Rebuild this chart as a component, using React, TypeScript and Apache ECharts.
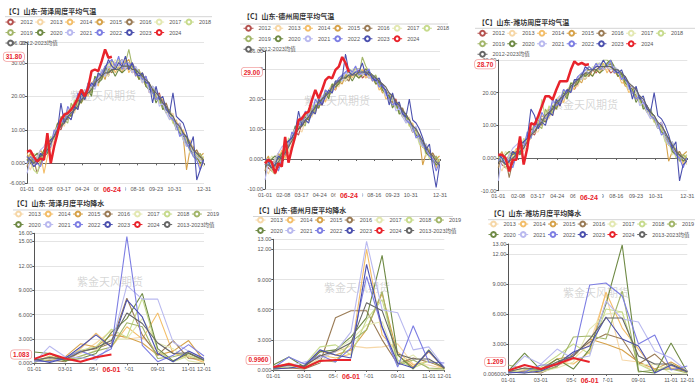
import React, { useEffect, useRef } from 'react';
import * as echarts from 'echarts';

// ---------- categories ----------
const DAYS: string[] = (() => {
  const out: string[] = [];
  const start = Date.UTC(2024, 0, 1);
  for (let i = 0; i < 366; i++) {
    const d = new Date(start + i * 86400000);
    out.push(String(d.getUTCMonth() + 1).padStart(2, '0') + '-' + String(d.getUTCDate()).padStart(2, '0'));
  }
  return out;
})();
const MONTHS = ['01-01', '02-01', '03-01', '04-01', '05-01', '06-01', '07-01', '08-01', '09-01', '10-01', '11-01', '12-01'];

const YEARS_T = ['2012', '2013', '2014', '2015', '2016', '2017', '2018', '2019', '2020', '2021', '2022', '2023'];
const YEARS_P = ['2013', '2014', '2015', '2016', '2017', '2018', '2019', '2020', '2021', '2022', '2023'];
const AVG_T = '2012-2023均值';
const AVG_P = '2013-2023均值';
const CUR = '2024';

const COLORS: Record<string, string> = {
  '2012': '#b5524f', '2013': '#f6d7a7', '2014': '#f3be6a', '2015': '#d6a24a', '2016': '#9a7b55',
  '2017': '#e3e8b1', '2018': '#c7db8d', '2019': '#a3b66a', '2020': '#6f8a45', '2021': '#b9b9ef',
  '2022': '#7d7ee3', '2023': '#4b50ae', '2024': '#e8232b', [AVG_T]: '#666666', [AVG_P]: '#666666',
};

// ---------- weekly temperature (°C), one value every 7 days from 01-01 ----------
const heze2012T = [2,0,-1,1,0,2,3,5,9,11, 10,13,15,14,17,18,20,19,22,23, 25,24,27,28,26,29,30,29,30,28, 29,27,28,26,27,24,23,22,20,21, 17,16,16,13,11,12,8,7,5,3, 2,0,1];
const heze2013T = [0,-2,1,2,1,3,5,4,7,11, 12,11,15,16,15,18,18,21,20,23, 23,26,25,28,29,27,30,31,29,30, 28,29,27,28,25,26,23,21,22,19, 18,16,14,15,11,10,10,7,6,5, 2,3,0];
const heze2014T = [3,1,2,0,3,-3,2,6,9,12, 13,14,13,17,18,16,21,22,20,24, 25,23,28,26,28,30,27,29,28,31, 27,29,26,27,24,25,21,22,19,20, 19,15,16,12,13,9,10,6,7,3, 4,-1,2];
const heze2015T = [1,3,0,2,4,2,6,7,8,9, 13,14,16,14,17,19,18,20,23,22, 24,26,27,25,29,28,30,29,27,30, 31,28,27,25,26,23,24,21,20,18, 19,17,14,13,12,10,8,-2,4,5, 1,2,3];
const heze2016T = [-1,2,1,-3,0,4,5,7,8,10, 11,15,13,16,18,17,19,21,22,21, 25,24,26,27,28,27,29,30,31,29, 28,30,28,26,25,26,22,23,20,19, 17,18,15,14,10,11,9,6,5,3, 4,2,0];
const heze2017T = [2,1,3,2,1,3,6,5,10,9, 12,13,14,17,16,19,20,22,21,24, 23,25,28,27,26,29,31,29,28,30, 29,27,29,26,24,25,24,20,21,19, 16,17,13,14,12,9,8,7,3,4, 2,1,-1];
const heze2018T = [0,1,-2,-3,1,2,4,8,7,11, 13,12,16,15,19,17,21,20,23,22, 26,25,27,26,30,29,28,31,30,29, 30,28,28,27,26,24,22,23,21,18, 18,16,15,12,11,10,7,6,6,2, 3,1,2];
const heze2019T = [1,2,0,1,3,1,5,6,9,10, 14,13,12,18,16,17,20,19,24,21, 24,27,25,28,27,31,29,28,29,30, 34,29,27,28,25,24,23,21,20,19, 17,15,16,13,10,11,9,5,6,4, 1,3,1];
const heze2020T = [1,0,2,3,2,4,3,7,8,12, 11,13,15,14,16,19,18,21,22,20, 26,24,25,29,27,28,26,28,27,28, 30,29,28,25,27,23,22,22,18,20, 16,17,15,14,11,9,8,8,4,3, 2,0,1];
const heze2021T = [-3,1,-1,2,4,5,7,6,9,11, 12,15,14,16,17,20,19,22,21,24, 22,25,28,26,29,28,30,29,31,28, 30,27,29,27,24,26,21,23,22,17, 18,15,13,14,10,12,7,5,6,3, 2,1,0];
const heze2022T = [0,2,1,0,-1,2,4,5,10,9, 13,12,17,15,16,21,19,20,24,23, 25,26,27,29,30,31,29,32,28,30, 29,30,26,27,25,26,23,21,19,20, 18,17,14,13,12,8,9,6,4,2, 1,-2,1];
const heze2023T = [2,1,-1,0,3,2,6,7,8,10, 18,12,14,13,17,16,21,19,22,24, 23,27,26,28,31,29,28,30,29,32, 28,30,27,26,27,24,24,18,23,19, 20,16,15,21,14,13,12,9,5,8, -5,-2,1];
const hezeAvgT = [1,1,0,1,2,3,4,6,8,10, 11,12,14,15,16,17,19,20,21,22, 24,25,26,27,27,28,28,28,29,29, 29,28,28,27,26,25,24,22,21,20, 18,17,15,14,12,11,9,8,6,4, 3,2,1];
const heze2024T = [3.5,3.8,2.0,0.5,1.5,1.0,9.0,0.0,5.0,9.0, 13.0,14.5,15.0,16.0,17.5,19.5,22.0,20.0,22.5,27.5, 28.0,27.5,30.5,34.0,31.5,31.8];

const dezhou2012T = [-1,-3,-4,-2,-3,0,1,4,7,9, 8,12,14,13,16,17,19,18,21,22, 24,23,26,27,26,28,29,28,30,27, 28,27,28,26,26,23,23,21,19,20, 16,15,15,12,9,10,6,5,3,1, 0,-2,-1];
const dezhou2013T = [-3,-5,-2,-1,-2,0,3,2,5,9, 10,9,13,14,14,17,17,20,19,22, 22,25,24,27,28,26,29,30,28,29, 27,28,26,27,24,25,22,20,21,18, 17,15,13,14,10,9,8,5,4,3, 0,1,-2];
const dezhou2014T = [0,-2,-1,-3,0,3,0,4,7,10, 12,13,12,16,17,15,20,21,19,23, 25,23,27,26,28,29,27,29,28,30, 27,28,26,27,23,24,20,21,18,19, 18,14,15,11,12,8,8,4,5,1, 2,-3,0];
const dezhou2015T = [-1,1,-2,0,2,0,4,5,6,8, 12,13,15,13,16,18,17,20,22,21, 23,25,26,25,28,27,29,28,27,29, 30,28,27,25,25,22,23,20,19,17, 18,16,13,12,11,9,7,-2,2,3, -1,0,1];
const dezhou2016T = [-4,0,-1,-5,-2,2,3,5,7,9, 10,14,12,15,17,16,18,20,21,21, 24,24,26,27,27,26,29,30,30,29, 28,29,28,26,25,25,22,22,19,18, 16,17,14,13,9,10,7,4,3,1, 2,0,-2];
const dezhou2017T = [-1,-1,1,0,-1,1,4,3,9,8, 11,12,13,16,15,18,20,21,20,23, 23,25,27,27,26,28,30,29,28,29, 29,27,28,26,24,24,23,19,20,18, 15,16,12,13,11,8,7,5,1,2, 0,-1,-3];
const dezhou2018T = [-2,-1,-4,-5,-1,0,2,7,6,10, 12,11,15,14,18,16,20,19,22,22, 25,25,26,26,29,29,28,30,30,29, 29,28,28,27,26,23,21,22,20,17, 17,15,14,11,10,9,5,4,4,0, 1,-1,0];
const dezhou2019T = [-2,0,-2,-1,1,-1,3,5,8,9, 13,12,11,17,15,16,19,19,23,21, 23,26,25,27,27,30,29,28,28,34, 31,29,27,28,25,24,23,20,20,18, 16,14,15,12,9,10,8,4,5,2, -1,1,-1];
const dezhou2020T = [-1,-2,0,1,0,2,2,6,7,11, 10,12,14,13,15,18,17,20,22,20, 25,24,25,28,27,28,26,28,27,28, 30,29,28,25,26,23,22,21,17,19, 15,16,14,13,10,8,7,6,2,1, 0,-2,-1];
const dezhou2021T = [-7,-1,-3,0,2,4,5,5,8,10, 11,14,13,15,16,19,19,21,20,23, 22,25,27,26,29,28,29,29,30,28, 29,27,28,27,24,25,21,22,21,16, 17,14,12,13,9,11,6,4,5,1, 0,-1,-2];
const dezhou2022T = [-2,0,-1,-2,-4,0,2,4,9,8, 12,11,16,14,15,20,18,19,23,22, 24,25,27,28,29,30,29,31,28,29, 29,30,26,27,24,25,22,20,18,19, 17,16,13,12,11,7,8,5,3,1, 0,-4,-1];
const dezhou2023T = [0,-1,-3,-2,1,0,5,6,7,9, 16,11,13,12,16,15,20,18,21,23, 22,26,26,27,35,29,28,29,29,32, 28,29,27,26,27,24,23,18,22,18, 19,15,14,20,13,12,10,7,3,5, -3,-9.5,-2];
const dezhouAvgT = [-2,-2,-3,-2,-1,1,2,4,6,8, 10,11,13,14,16,17,19,20,21,22, 24,25,26,27,27,28,28,28,29,29, 29,28,28,27,26,25,24,22,21,19, 18,16,15,13,11,10,8,6,4,2, 1,-1,-2];
const dezhou2024T = [-1.5,-0.3,-1.0,-4.8,-1.5,-2.5,7.4,-1.2,3.5,7.5, 13.0,13.5,15.2,15.8,19.7,23.0,20.2,23.0,26.3,27.4, 26.9,29.7,30.8,34.0,32.0,29.0];

const weifang2012T = [0,-2,-3,-1,-2,1,2,3,6,8, 7,10,12,11,14,15,17,16,19,20, 22,21,23,25,24,26,27,26,28,27, 28,26,27,25,25,23,22,21,19,19, 16,15,14,12,10,11,7,6,3,2, 0,-1,0];
const weifang2013T = [-2,-4,-1,0,-1,1,3,2,4,7, 8,8,11,12,12,15,15,17,17,20, 20,22,22,25,26,25,27,28,26,28, 27,28,26,26,24,24,21,20,20,18, 17,15,13,13,10,9,8,5,3,2, -1,1,-2];
const weifang2014T = [1,-1,0,-2,1,3,1,4,6,8, 10,11,10,14,15,13,18,19,17,21, 22,21,25,24,26,27,25,27,27,29, 26,28,26,26,23,23,20,21,18,18, 17,14,14,11,11,8,8,4,4,1, 2,-2,1];
const weifang2015T = [0,2,-1,1,2,1,4,5,5,6, 10,11,13,12,14,16,15,18,20,19, 21,23,24,23,26,25,27,27,26,28, 29,28,27,25,25,22,22,20,19,17, 17,15,13,12,11,9,7,-1,2,3, 0,1,2];
const weifang2016T = [-3,1,0,-6,-1,2,3,4,6,7, 9,12,10,13,15,14,16,18,19,19, 22,22,24,25,26,25,27,28,29,28, 28,29,28,26,25,24,22,22,19,18, 16,16,13,12,9,10,7,4,3,1, 2,0,-1];
const weifang2017T = [0,0,2,1,0,2,4,3,8,6, 9,10,11,14,13,16,18,19,18,21, 21,23,25,25,24,26,28,27,27,28, 29,27,28,26,24,24,22,19,20,18, 15,15,12,13,11,8,7,5,1,2, 1,-1,-2];
const weifang2018T = [-1,0,-3,-4,0,1,2,6,5,8, 10,9,18,12,16,14,18,17,20,20, 23,23,24,24,27,27,27,29,29,28, 29,28,28,27,26,23,21,21,20,17, 16,15,14,11,10,9,5,4,4,0, 1,0,1];
const weifang2019T = [-1,1,-1,0,2,0,3,4,7,7, 11,10,9,15,13,14,17,17,21,19, 21,24,23,25,25,28,27,27,27,30, 30,29,27,27,25,24,22,20,19,18, 16,14,15,12,9,10,8,4,5,2, -1,1,0];
const weifang2020T = [0,-1,1,2,1,2,1,5,6,9, 8,10,12,11,13,16,15,18,20,18, 23,22,23,26,25,26,25,27,26,27, 29,30,28,25,26,23,22,21,17,19, 15,16,14,13,10,8,7,6,2,1, 1,-1,0];
const weifang2021T = [-7,0,-2,1,3,4,5,4,7,8, 9,12,11,13,14,17,17,19,18,21, 20,23,25,24,27,26,27,28,29,27, 28,27,28,27,24,25,21,22,21,16, 17,14,12,13,9,11,6,4,5,1, 0,0,-1];
const weifang2022T = [-1,1,0,-1,-3,1,2,3,8,6, 10,9,14,12,13,18,16,17,21,20, 22,23,25,26,27,28,27,29,27,28, 28,30,26,27,24,25,22,20,18,19, 17,16,13,12,11,7,8,5,3,1, 0,-3,0];
const weifang2023T = [1,0,-2,-1,2,1,4,5,6,15, 13,9,11,10,14,13,18,16,19,21, 20,24,24,25,28,27,27,28,28,30, 28,28,27,26,27,24,23,18,22,18, 19,15,14,20,13,12,10,7,3,5, -7,-2,-1];
const weifangAvgT = [-1,-1,-2,-1,0,1,2,3,5,7, 8,10,11,13,14,15,17,18,19,20, 22,23,24,25,26,26,27,27,28,28, 28,28,27,27,26,25,23,22,21,19, 18,16,14,13,11,10,8,6,4,2, 1,0,-1];
const weifang2024T = [1.0,1.0,0.0,-4.1,-0.5,-0.5,6.6,-2.0,3.1,10.7, 10.2,12.8,15.8,18.9,18.9,17.9,20.9,23.5,23.5,23.5, 27.0,29.6,28.6,29.1,28.5,28.7];

// ---------- monthly precipitation ----------
const heze2013P = [0.3,0.8,0.5,1.2,2.5,4.0,3.0,3.2,1.5,0.3,1.0,0.2];
const heze2014P = [0.2,0.9,0.4,1.8,3.7,2.0,4.5,3.0,6.2,1.2,0.8,0.1];
const heze2015P = [0.4,0.3,0.8,2.4,2.0,3.5,3.2,2.5,1.0,1.5,2.8,0.3];
const heze2016P = [0.2,0.4,0.2,1.5,1.8,2.5,8.0,3.5,1.0,2.8,0.6,0.5];
const heze2017P = [0.1,0.6,0.4,0.8,1.6,3.0,3.0,5.5,2.5,1.8,0.3,0.0];
const heze2018P = [0.6,0.2,0.7,1.6,2.0,4.2,3.2,8.0,1.5,0.2,0.9,0.4];
const heze2019P = [0.1,0.8,0.3,0.9,1.5,2.0,5.0,4.5,0.6,0.8,1.3,0.3];
const heze2020P = [1.4,1.2,0.3,0.6,1.2,3.8,5.5,8.6,1.8,0.3,1.2,0.4];
const heze2021P = [0.1,2.1,0.8,0.7,0.4,2.2,9.6,7.9,7.9,2.6,1.5,0.5];
const heze2022P = [0.3,0.2,0.7,1.5,0.8,1.8,15.6,2.2,0.2,1.0,2.3,0.9];
const heze2023P = [0.5,0.1,0.6,2.0,3.5,2.0,7.8,5.7,1.2,0.2,1.5,0.6];
const hezeAvgP = [0.4,0.7,0.5,1.4,1.9,2.8,6.2,4.9,2.5,1.2,1.3,0.4];
const heze2024P = [0.55,1.2,0.6,0.2,0.75,1.083];

const dezhou2013P = [0.1,0.5,0.2,1.2,1.8,2.4,2.2,2.3,2.6,0.6,0.5,0.1];
const dezhou2014P = [0.2,0.7,0.3,1.5,1.2,1.6,12.0,3.5,1.8,0.5,0.9,0.1];
const dezhou2015P = [0.3,0.3,0.4,1.9,1.5,2.0,4.0,7.6,1.5,0.3,1.8,0.2];
const dezhou2016P = [0.1,0.2,0.1,0.7,5.2,5.9,5.9,3.0,0.6,1.2,0.8,0.3];
const dezhou2017P = [0.0,0.4,0.3,0.8,2.0,3.0,4.5,4.8,0.8,1.5,0.1,0.0];
const dezhou2018P = [0.4,0.2,0.5,2.3,2.5,1.5,5.0,7.0,1.0,0.2,0.9,0.3];
const dezhou2019P = [0.1,0.5,0.2,1.0,0.8,2.8,4.0,7.8,0.5,1.0,0.2,0.1];
const dezhou2020P = [0.5,1.3,0.3,1.8,2.0,3.3,5.2,11.4,1.5,0.1,2.0,0.1];
const dezhou2021P = [0.3,0.4,0.8,1.2,1.8,3.8,12.8,6.0,5.7,2.0,2.3,0.3];
const dezhou2022P = [0.2,1.3,0.6,1.5,0.8,2.2,9.3,4.2,0.3,4.4,0.8,0.7];
const dezhou2023P = [0.1,0.2,0.4,2.0,1.5,1.2,10.5,4.3,0.7,0.2,1.9,0.2];
const dezhouAvgP = [0.2,0.5,0.4,1.4,1.9,2.7,6.7,5.9,1.6,1.1,1.1,0.2];
const dezhou2024P = [0.3,0.6,0.2,0.9,1.0,0.996];

const weifang2013P = [0.1,0.4,0.3,0.8,1.5,3.0,8.0,1.4,1.2,0.2,0.8,0.1];
const weifang2014P = [0.2,0.6,0.2,1.2,1.0,2.2,8.2,4.6,2.5,0.4,0.6,0.2];
const weifang2015P = [0.3,0.2,0.5,1.5,1.8,3.5,3.0,2.4,1.2,0.5,1.2,0.3];
const weifang2016P = [0.1,0.3,0.1,0.8,2.0,3.2,4.0,3.5,1.0,2.0,0.5,0.3];
const weifang2017P = [0.05,0.5,0.2,0.6,1.2,4.5,6.0,6.2,0.9,1.0,0.1,0.006];
const weifang2018P = [0.4,0.1,0.7,1.8,3.0,2.0,6.5,6.2,1.0,0.2,1.0,0.2];
const weifang2019P = [0.9,0.5,0.3,0.7,3.7,3.8,3.5,8.3,0.2,0.4,0.5,0.1];
const weifang2020P = [0.3,2.1,0.4,1.5,0.5,2.5,7.0,12.9,0.3,0.1,3.1,0.2];
const weifang2021P = [0.2,1.8,1.0,2.5,1.5,1.8,7.3,5.5,5.2,2.3,1.6,0.3];
const weifang2022P = [0.1,0.2,0.9,0.9,1.8,8.9,9.1,7.8,3.0,3.9,0.4,0.8];
const weifang2023P = [0.2,0.1,0.3,1.0,2.2,2.8,5.7,3.5,2.8,0.1,0.9,0.2];
const weifangAvgP = [0.25,0.6,0.45,1.2,1.8,3.5,5.6,5.6,1.8,1.0,1.0,0.25];
const weifang2024P = [0.35,0.9,0.5,1.0,1.6,1.209];

// ---------- panel layout ----------
const FONT = '"Liberation Sans", Arial, "Noto Sans CJK SC", sans-serif';
const CJK = '"Noto Sans CJK SC", sans-serif';
const RED = '#e8232b';

const tempPanels = [
  {
    title: '【C】山东-菏泽周度平均气温', years: [heze2012T, heze2013T, heze2014T, heze2015T, heze2016T, heze2017T, heze2018T, heze2019T, heze2020T, heze2021T, heze2022T, heze2023T],
    avg: hezeAvgT, cur: heze2024T, min: -6, max: 36,
    grid: { left: 27, top: 42.7, width: 177, height: 140.7 }, titleXY: [5, 11], rule: [5, 212, 16.7], legendXY: [5, 17.8], wm: [103, 95],
  },
  {
    title: '【C】山东-德州周度平均气温', years: [dezhou2012T, dezhou2013T, dezhou2014T, dezhou2015T, dezhou2016T, dezhou2017T, dezhou2018T, dezhou2019T, dezhou2020T, dezhou2021T, dezhou2022T, dezhou2023T],
    avg: dezhouAvgT, cur: dezhou2024T, min: -10, max: 36,
    grid: { left: 265, top: 51, width: 175, height: 138 }, titleXY: [243, 16], rule: [240, 448, 24], legendXY: [243, 24], wm: [337, 100],
  },
  {
    title: '【C】山东-潍坊周度平均气温', years: [weifang2012T, weifang2013T, weifang2014T, weifang2015T, weifang2016T, weifang2017T, weifang2018T, weifang2019T, weifang2020T, weifang2021T, weifang2022T, weifang2023T],
    avg: weifangAvgT, cur: weifang2024T, min: -10, max: 30,
    grid: { left: 498.3, top: 60, width: 189, height: 130.7 }, titleXY: [478, 21.7], rule: [475, 695, 28.3], legendXY: [477, 29], wm: [585, 104],
  },
];

const precipPanels = [
  {
    title: '【C】山东-菏泽月度平均降水', years: [heze2013P, heze2014P, heze2015P, heze2016P, heze2017P, heze2018P, heze2019P, heze2020P, heze2021P, heze2022P, heze2023P],
    avg: hezeAvgP, cur: heze2024P, min: 0, max: 16,
    grid: { left: 34.3, top: 233.3, width: 169.7, height: 130 }, titleXY: [13, 203], rule: [13, 212, 210], legendXY: [13, 209.8], wm: [110, 281],
  },
  {
    title: '【C】山东-德州月度平均降水', years: [dezhou2013P, dezhou2014P, dezhou2015P, dezhou2016P, dezhou2017P, dezhou2018P, dezhou2019P, dezhou2020P, dezhou2021P, dezhou2022P, dezhou2023P],
    avg: dezhouAvgP, cur: dezhou2024P, min: 0, max: 13,
    grid: { left: 273.3, top: 239.3, width: 171, height: 130.7 }, titleXY: [255, 210], rule: [253, 453, 216.5], legendXY: [255, 215.8], wm: [357, 287],
  },
  {
    title: '【C】山东-潍坊月度平均降水', years: [weifang2013P, weifang2014P, weifang2015P, weifang2016P, weifang2017P, weifang2018P, weifang2019P, weifang2020P, weifang2021P, weifang2022P, weifang2023P],
    avg: weifangAvgP, cur: weifang2024P, min: 0.006, max: 13,
    grid: { left: 508.3, top: 244, width: 179, height: 130 }, titleXY: [490, 213.3], rule: [488, 695, 219.7], legendXY: [488, 219.8], wm: [596, 292],
  },
];

const fmt4 = (v: any) => Number(v).toPrecision(4);
const dayShown = (i: number) => (i % 38 === 0 && i <= 304) || i === 365;
const monthShown = (i: number) => i % 2 === 0 || i === 11;

function buildOption() {
  const grid: any[] = [];
  const xAxis: any[] = [];
  const yAxis: any[] = [];
  const series: any[] = [];
  const legend: any[] = [];
  const graphic: any[] = [];

  const labelBase = { fontSize: 5.5, color: '#555', fontFamily: FONT };
  const pointerLabel = {
    show: true, color: RED, fontWeight: 'bold', fontSize: 7, fontFamily: FONT,
    backgroundColor: '#fff', padding: [1, 4.5], shadowBlur: 0, shadowColor: 'transparent',
  };
  const hiddenPointerLine = { color: 'rgba(0,0,0,0)', opacity: 0 };

  const makeYAxis = (gi: number, min: number, max: number, val: number) => ({
    type: 'value', gridIndex: gi, min, max,
    axisLine: { show: true, lineStyle: { color: '#555', width: 1 } },
    axisTick: { show: true, length: 2, lineStyle: { color: '#555' } },
    axisLabel: { ...labelBase, margin: 2, formatter: fmt4 },
    splitLine: { show: true, lineStyle: { color: '#e4e4e4', width: 1 } },
    axisPointer: {
      show: true, status: 'show', value: val, type: 'line', lineStyle: hiddenPointerLine,
      label: { ...pointerLabel, padding: [1, 2], fontSize: 6.5, borderColor: '#f2a0a0', borderWidth: 0.8, formatter: (q: any) => fmt4(q.value) },
    },
  });

  const addDecor = (p: any, legendNames: string[]) => {
    graphic.push({
      type: 'text', x: p.titleXY[0], y: p.titleXY[1], silent: true,
      style: { text: p.title, fontSize: 7, fontWeight: 'bold', fill: '#333', fontFamily: CJK, verticalAlign: 'middle' },
    });
    graphic.push({
      type: 'line', silent: true, shape: { x1: p.rule[0], y1: p.rule[2], x2: p.rule[1], y2: p.rule[2] },
      style: { stroke: '#d4d4d4', lineWidth: 1 },
    });
    graphic.push({
      type: 'text', x: p.wm[0], y: p.wm[1], z: 1, silent: true,
      style: { text: '紫金天风期货', fontSize: 11, fill: 'rgba(150,150,150,0.4)', fontFamily: CJK, align: 'center', verticalAlign: 'middle' },
    });
    legend.push({
      data: legendNames, left: p.legendXY[0], top: p.legendXY[1], width: 212, padding: 0,
      itemWidth: 10, itemHeight: 6, itemGap: 2,
      lineStyle: { width: 1 },
      textStyle: { fontSize: 5.5, color: '#555', fontFamily: FONT, lineHeight: 8.5 },
    });
  };

  const lineSeries = (name: string, data: any[], xi: number, yi: number, isCur: boolean, isAvg: boolean) => ({
    name, type: 'line', xAxisIndex: xi, yAxisIndex: yi, data,
    symbol: 'emptyCircle', symbolSize: 4, showSymbol: false, connectNulls: true,
    lineStyle: { width: isCur ? 2.5 : 1.1, color: COLORS[name] },
    itemStyle: { color: COLORS[name] },
    z: isCur ? 6 : isAvg ? 4 : 3,
    silent: true,
  });

  tempPanels.forEach((p) => {
    const gi = grid.length;
    grid.push({ ...p.grid, containLabel: false, outerBoundsMode: 'none' });
    const xi = xAxis.length;
    xAxis.push({
      type: 'category', gridIndex: gi, data: DAYS, boundaryGap: false, position: 'bottom',
      axisLine: { show: false, onZero: false }, axisTick: { show: false }, splitLine: { show: false },
      axisLabel: { ...labelBase, interval: dayShown, margin: 3 },
      axisPointer: { show: true, status: 'show', value: (p.cur.length - 1) * 7, type: 'line', snap: false, lineStyle: hiddenPointerLine, label: { ...pointerLabel, margin: 2 } },
    });
    xAxis.push({
      type: 'category', gridIndex: gi, data: DAYS, boundaryGap: false, position: 'bottom',
      axisLine: { show: true, onZero: true, lineStyle: { color: '#666', width: 1 } },
      axisTick: { show: true, interval: dayShown, length: 2, lineStyle: { color: '#666' } },
      axisLabel: { show: false }, splitLine: { show: false }, axisPointer: { show: false },
    });
    const yi = yAxis.length;
    yAxis.push(makeYAxis(gi, p.min, p.max, p.cur[p.cur.length - 1]));
    const toDaily = (arr: number[]) => arr.map((v, i) => [i * 7, v]);
    p.years.forEach((arr, k) => series.push(lineSeries(YEARS_T[k], toDaily(arr), xi, yi, false, false)));
    series.push(lineSeries(AVG_T, toDaily(p.avg), xi, yi, false, true));
    series.push(lineSeries(CUR, toDaily(p.cur), xi, yi, true, false));
    addDecor(p, [...YEARS_T, CUR, AVG_T]);
  });

  precipPanels.forEach((p) => {
    const gi = grid.length;
    grid.push({ ...p.grid, containLabel: false, outerBoundsMode: 'none' });
    const xi = xAxis.length;
    xAxis.push({
      type: 'category', gridIndex: gi, data: MONTHS, boundaryGap: false, position: 'bottom',
      axisLine: { show: true, onZero: false, lineStyle: { color: '#666', width: 1 } },
      axisTick: { show: true, interval: monthShown, length: 2, lineStyle: { color: '#666' } },
      splitLine: { show: false },
      axisLabel: { ...labelBase, interval: monthShown, margin: 3 },
      axisPointer: { show: true, status: 'show', value: p.cur.length - 1, type: 'line', snap: false, lineStyle: hiddenPointerLine, label: { ...pointerLabel, margin: 2 } },
    });
    const yi = yAxis.length;
    yAxis.push(makeYAxis(gi, p.min, p.max, p.cur[p.cur.length - 1]));
    p.years.forEach((arr, k) => series.push(lineSeries(YEARS_P[k], arr, xi, yi, false, false)));
    series.push({ ...lineSeries(AVG_P, p.avg, xi, yi, false, true) });
    series.push({ ...lineSeries(CUR, p.cur, xi, yi, true, false), lineStyle: { width: 2, color: COLORS[CUR] } });
    addDecor(p, [...YEARS_P, CUR, AVG_P]);
  });

  return {
    animation: false,
    backgroundColor: '#ffffff',
    textStyle: { fontFamily: FONT },
    grid, xAxis, yAxis, series, legend, graphic,
  };
}

export default function App() {
  const ref = useRef<HTMLDivElement>(null);
  useEffect(() => {
    if (!ref.current) return;
    const chart = echarts.init(ref.current, undefined, { renderer: 'svg' });
    chart.setOption(buildOption() as any);
    return () => chart.dispose();
  }, []);
  return (
    <div
      ref={ref}
      style={{ position: 'fixed', left: 0, top: 0, width: 700, height: 387, background: '#fff' }}
    />
  );
}
